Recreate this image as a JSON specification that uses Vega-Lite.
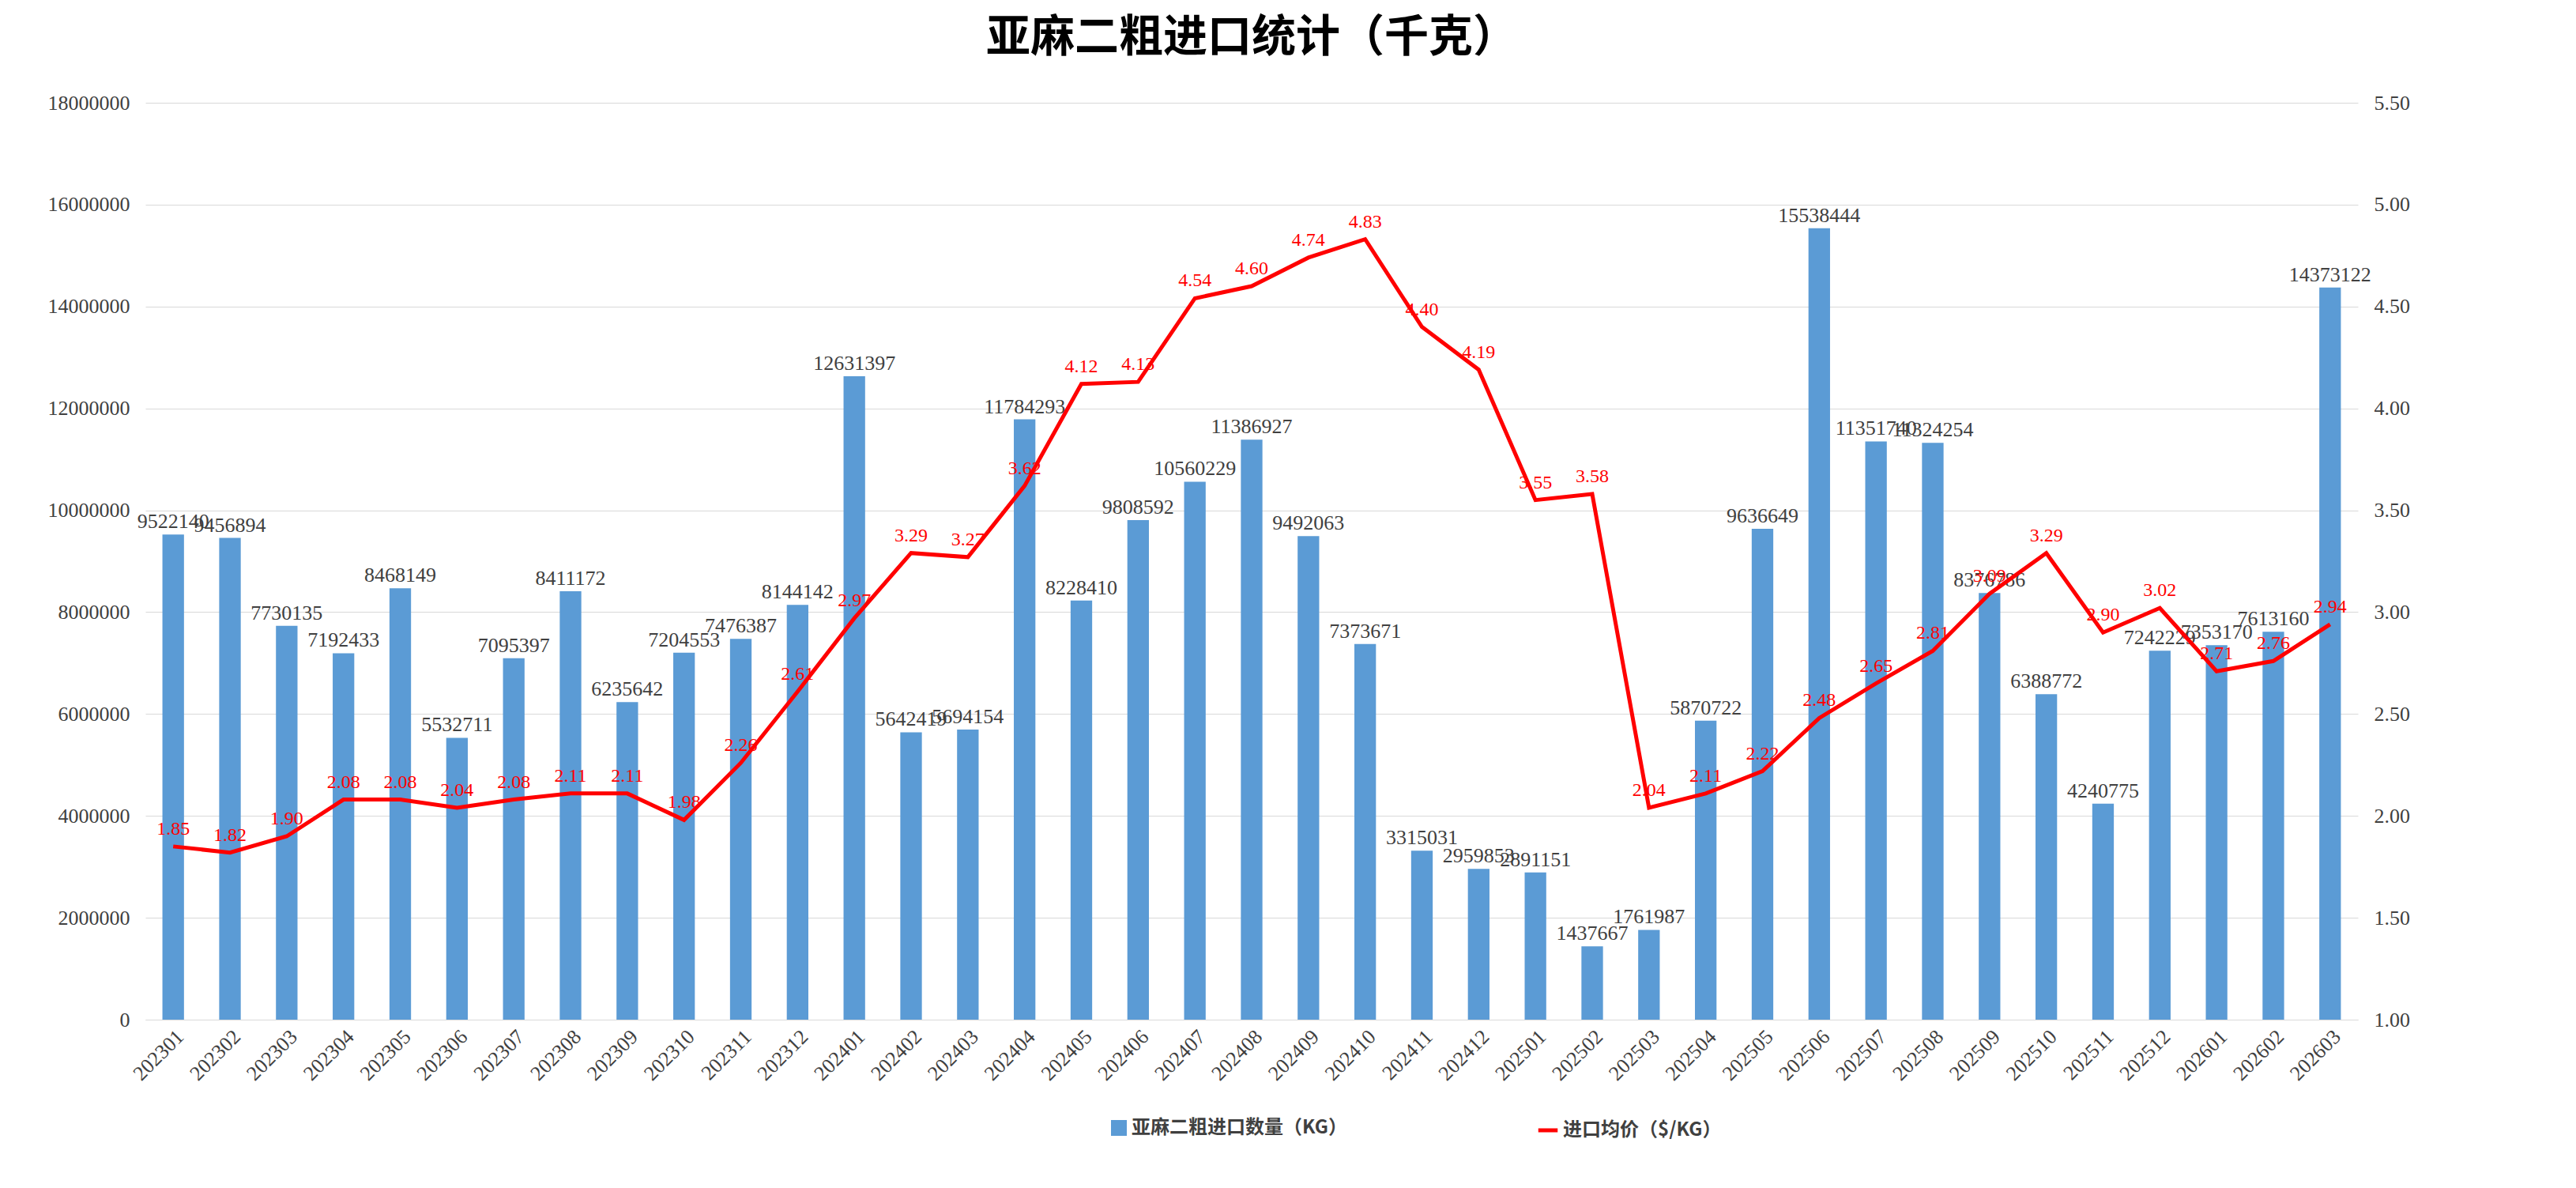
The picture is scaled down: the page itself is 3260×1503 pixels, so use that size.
{
"$schema":"https://vega.github.io/schema/vega-lite/v6.json",
"width":2800,"height":1160,
"padding":{"left":60,"top":20,"right":40,"bottom":10},
"background":"white",
"config":{"view":{"stroke":null},"font":"Liberation Serif"},
"title":{"text":"亚麻二粗进口统计（千克）","font":"Noto Sans CJK SC","fontSize":56,"fontWeight":"bold","color":"#000","offset":40},
"data":{"values":[
{"m":"202301","q":9522140,"p":1.85},{"m":"202302","q":9456894,"p":1.82},{"m":"202303","q":7730135,"p":1.90},{"m":"202304","q":7192433,"p":2.08},{"m":"202305","q":8468149,"p":2.08},{"m":"202306","q":5532711,"p":2.04},{"m":"202307","q":7095397,"p":2.08},{"m":"202308","q":8411172,"p":2.11},{"m":"202309","q":6235642,"p":2.11},{"m":"202310","q":7204553,"p":1.98},{"m":"202311","q":7476387,"p":2.26},{"m":"202312","q":8144142,"p":2.61},
{"m":"202401","q":12631397,"p":2.97},{"m":"202402","q":5642419,"p":3.29},{"m":"202403","q":5694154,"p":3.27},{"m":"202404","q":11784293,"p":3.62},{"m":"202405","q":8228410,"p":4.12},{"m":"202406","q":9808592,"p":4.13},{"m":"202407","q":10560229,"p":4.54},{"m":"202408","q":11386927,"p":4.60},{"m":"202409","q":9492063,"p":4.74},{"m":"202410","q":7373671,"p":4.83},{"m":"202411","q":3315031,"p":4.40},{"m":"202412","q":2959853,"p":4.19},
{"m":"202501","q":2891151,"p":3.55},{"m":"202502","q":1437667,"p":3.58},{"m":"202503","q":1761987,"p":2.04},{"m":"202504","q":5870722,"p":2.11},{"m":"202505","q":9636649,"p":2.22},{"m":"202506","q":15538444,"p":2.48},{"m":"202507","q":11351740,"p":2.65},{"m":"202508","q":11324254,"p":2.81},{"m":"202509","q":8376786,"p":3.09},{"m":"202510","q":6388772,"p":3.29},{"m":"202511","q":4240775,"p":2.90},{"m":"202512","q":7242229,"p":3.02},
{"m":"202601","q":7353170,"p":2.71},{"m":"202602","q":7613160,"p":2.76},{"m":"202603","q":14373122,"p":2.94}
]},
"encoding":{"x":{"field":"m","type":"ordinal","title":null,"scale":{"paddingInner":0.62,"paddingOuter":0.3},
 "axis":{"labelAngle":-45,"labelFontSize":26,"labelColor":"#404040","domainColor":"#d9d9d9","ticks":false,"labelPadding":8}}},
"layer":[
{"mark":{"type":"bar","color":"#5B9BD5"},
 "encoding":{"y":{"field":"q","type":"quantitative","title":null,"scale":{"domain":[0,18000000]},
   "axis":{"values":[0,2000000,4000000,6000000,8000000,10000000,12000000,14000000,16000000,18000000],"format":"d","labelFontSize":26,"labelColor":"#404040","domain":false,"ticks":false,"gridColor":"#d9d9d9","labelPadding":20}},
  "color":{"datum":"亚麻二粗进口数量（KG）","type":"nominal","scale":{"range":["#5B9BD5"]},
   "legend":{"orient":"none","legendX":1220,"legendY":1285,"title":null,"symbolType":"square","symbolSize":400,"labelFontSize":24,"labelLimit":800,"labelFont":"Noto Sans CJK SC","labelFontWeight":"bold","labelColor":"#404040"}}}},
{"mark":{"type":"text","dy":-16,"fontSize":26,"color":"#404040"},
 "encoding":{"y":{"field":"q","type":"quantitative","scale":{"domain":[0,18000000]},"axis":null},"text":{"field":"q","type":"quantitative","format":"d"}}},
{"mark":{"type":"line","strokeWidth":5},
 "encoding":{"y":{"field":"p","type":"quantitative","title":null,"scale":{"domain":[1,5.5]},
   "axis":{"orient":"right","values":[1,1.5,2,2.5,3,3.5,4,4.5,5,5.5],"format":".2f","labelFontSize":26,"labelColor":"#404040","domain":false,"ticks":false,"grid":false,"labelPadding":20}},
  "stroke":{"datum":"进口均价（$/KG）","type":"nominal","scale":{"range":["#FF0000"]},
   "legend":{"orient":"none","legendX":1760,"legendY":1285,"title":null,"symbolType":"stroke","symbolStrokeWidth":5,"symbolSize":600,"labelFontSize":24,"labelLimit":800,"labelFont":"Noto Sans CJK SC","labelFontWeight":"bold","labelColor":"#404040"}}}},
{"mark":{"type":"text","dy":-22,"fontSize":24,"color":"#FF0000"},
 "encoding":{"y":{"field":"p","type":"quantitative","scale":{"domain":[1,5.5]},"axis":null},"text":{"field":"p","type":"quantitative","format":".2f"}}}
],
"resolve":{"scale":{"y":"independent","color":"independent"}}
}
